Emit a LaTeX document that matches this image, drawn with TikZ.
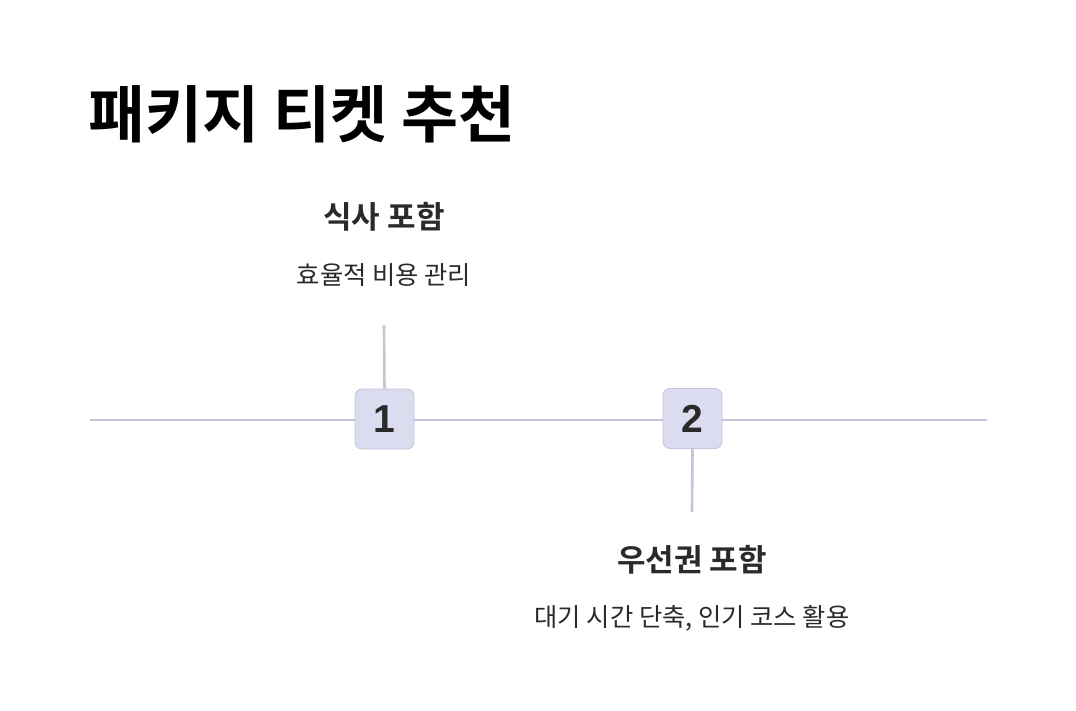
\documentclass[tikz,border=0pt]{standalone}
\usepackage{fontspec}
\setmainfont{Noto Sans CJK KR}
\newfontfamily\krbold{Noto Sans CJK KR Bold}
\newfontfamily\numfont{Liberation Sans}
\definecolor{lineC}{HTML}{C6C4D6}
\definecolor{boxFill}{HTML}{DCDCF0}
\definecolor{boxDraw}{HTML}{C4C4DC}
\definecolor{txt}{HTML}{2A2A2A}
\tikzset{
  numbox/.style={draw=boxDraw, fill=boxFill, rounded corners=7pt, minimum width=59pt, minimum height=60pt, inner sep=0pt, line width=0.8pt, font=\numfont\bfseries\fontsize{39}{39}\selectfont, text=txt},
  tl/.style={draw=lineC, line width=2.6pt},
  head/.style={font=\krbold\fontsize{31}{31}\selectfont, text=txt, anchor=center, inner sep=0pt},
  sub/.style={font=\fontsize{25.3}{25.3}\selectfont, text=txt, anchor=center, inner sep=0pt}
}
\begin{document}
\begin{tikzpicture}[x=1pt,y=-1pt]
\useasboundingbox[fill=white] (0,0) rectangle (1076,710);
\node[anchor=west, inner sep=0pt, font=\krbold\fontsize{62}{62}\selectfont] (title) at (88,114) {패키지 티켓 추천};
\coordinate (L) at (90,420);
\coordinate (R) at (987,420);
\draw[tl] (L) -- (R);
\coordinate (t1) at (384,325);
\coordinate (b2) at (692,512);
\node[numbox] (n1) at (384.5,419) {1};
\node[numbox] (n2) at (692.5,418.5) {2};
\draw[tl] (t1) -- (n1.north);
\draw[tl] (n2.south) -- (b2);
\node[head] (h1) at (384,217) {식사 포함};
\node[sub] (s1) at (384,275) {효율적 비용 관리};
\node[head] (h2) at (692,560) {우선권 포함};
\node[sub] (s2) at (692,618) {대기 시간 단축, 인기 코스 활용};
\end{tikzpicture}
\end{document}
